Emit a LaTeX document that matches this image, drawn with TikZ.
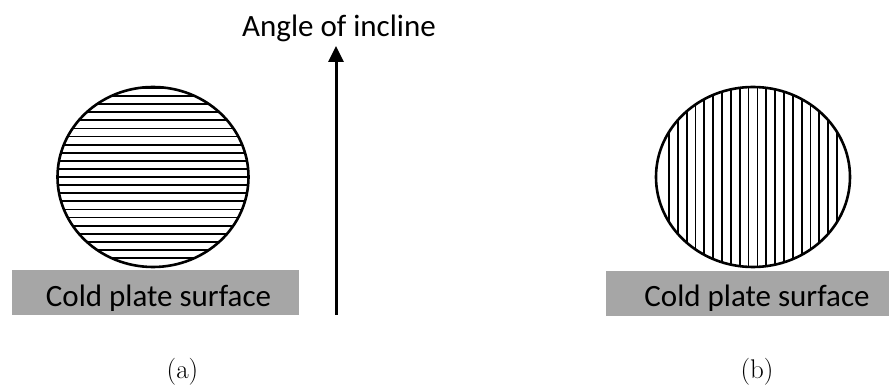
\documentclass[tikz,border=0pt]{standalone}
\usepackage{fontspec}
\newfontfamily\calibri{Carlito}
\usetikzlibrary{arrows.meta,shapes.geometric}
\definecolor{plategray}{HTML}{A6A6A6}
\tikzset{
  drop/.style={ellipse, draw=black, line width=2.6pt, inner sep=0pt},
  hatch/.style={line width=1.8pt},
  plate/.style={fill=plategray, draw=none, inner sep=0pt},
  platetext/.style={font=\calibri\fontsize{31}{36}\selectfont, anchor=base, inner sep=0pt},
  caption/.style={font=\fontsize{27}{32}\selectfont, anchor=base, inner sep=0pt},
  uparrow/.style={line width=3pt, -{Triangle[width=15pt,length=16pt]}}
}
\begin{document}
\begin{tikzpicture}[x=1pt,y=-1pt]
\useasboundingbox (0,0) rectangle (889,387);
% left drop with horizontal hatching
\begin{scope}
  \clip (153,177) ellipse [x radius=95.5, y radius=90];
  \foreach \k in {0,...,21} \draw[hatch] (50,88+8.1*\k) -- (260,88+8.1*\k);
\end{scope}
\node[drop, minimum width=191pt, minimum height=180pt] (dropA) at (153,177) {};
% right drop with vertical hatching
\begin{scope}
  \clip (753,177) ellipse [x radius=97, y radius=90];
  \foreach \k in {0,...,19} \draw[hatch] (669+8.84*\k,80) -- (669+8.84*\k,280);
\end{scope}
\node[drop, minimum width=194pt, minimum height=180pt] (dropB) at (753,177) {};
% plates
\node[plate, minimum width=287pt, minimum height=45pt] (plateA) at (155.5,292.5) {};
\node[platetext] (textA) at (158.5,307) {Cold plate surface};
\node[plate, minimum width=283pt, minimum height=45pt] (plateB) at (747.5,293.5) {};
\node[platetext] (textB) at (757,307) {Cold plate surface};
% arrow
\node[platetext] (angle) at (339,37) {Angle of incline};
\coordinate (arrowbase) at (336,315);
\coordinate (tip) at (336,46);
\draw[uparrow] (arrowbase) -- (tip);
% captions
\node[caption] (capA) at (182.5,378) {(a)};
\node[caption] (capB) at (757,378) {(b)};
\end{tikzpicture}
\end{document}
